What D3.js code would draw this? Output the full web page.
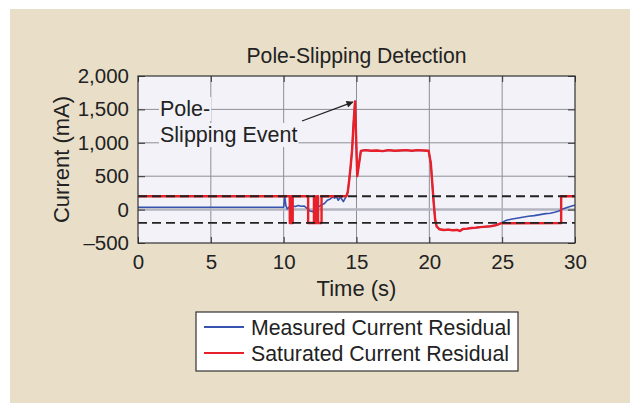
<!DOCTYPE html>
<html>
  <head>
    <meta http-equiv="Content-type" content="text/html; charset=utf-8"/>
    <title>Pole-Slipping Detection</title>
    <script src="https://d3js.org/d3.v7.min.js"></script>
    <style>
      body{ margin:0; background:#fff; }
      svg text{ font-family:"Liberation Sans", Arial, sans-serif; fill:#222; }
    </style>
  </head>
  <body>
    <svg width="630" height="403"></svg>
    <script>
      // ### Data ###
      var measuredT = [0, 10.0, 10.08, 10.15, 10.25, 10.4, 10.6, 10.8, 11.0, 11.2, 11.4, 11.6, 11.8, 12.0, 12.2, 12.4, 12.6, 12.8,
                       13.0, 13.2, 13.4, 13.5, 13.6, 13.75, 13.9, 14.0, 14.1, 14.2, 14.3, 14.4, 14.5, 14.6, 14.7, 14.8, 14.9, 14.97,
                       15.05, 15.15, 15.3, 15.6, 16.0, 16.4, 16.8, 17.2, 17.6, 18.0, 18.4, 18.8, 19.2, 19.6, 19.95, 20.1, 20.2, 20.3,
                       20.4, 20.5, 20.7, 21.0, 21.3, 21.6, 21.9, 22.1, 22.3, 22.6, 22.9, 23.2, 23.5, 23.9, 24.2, 24.6, 24.9, 25.1,
                       25.3, 25.6, 26.0, 26.4, 26.8, 27.2, 27.6, 28.0, 28.3, 28.6, 28.9, 29.1, 29.5, 29.9, 30];
      var measuredV = [35, 35, 190, 60, 10, 40, 55, 45, 60, 50, 55, 20, -20, -30, 10, 40, 70, 90,
                       140, 160, 190, 170, 200, 140, 190, 150, 120, 160, 200, 260, 440, 650, 900, 1300, 1620, 1100,
                       500, 650, 880, 890, 880, 885, 875, 890, 880, 885, 890, 880, 890, 885, 880, 700, 400, 100,
                       -150, -250, -295, -305, -300, -310, -305, -320, -290, -285, -275, -270, -262, -255, -250, -232, -205, -180,
                       -160, -145, -130, -115, -100, -90, -75, -60, -55, -40, -20, 5, 35, 60, 65];

      var saturatedT = [0, 10.42, 10.42, 10.5, 10.5, 10.55, 10.55, 10.62, 10.62, 11.68, 11.68, 12.08, 12.08, 12.15, 12.15, 12.3,
                        12.3, 12.36, 12.36, 12.6, 12.6, 14.3, 14.4, 14.5, 14.6, 14.7, 14.8, 14.9, 14.97, 15.05, 15.15, 15.3, 15.6,
                        16.0, 16.4, 16.8, 17.2, 17.6, 18.0, 18.4, 18.8, 19.2, 19.6, 19.95, 20.1, 20.2, 20.3, 20.4, 20.5, 20.7,
                        21.0, 21.3, 21.6, 21.9, 22.1, 22.3, 22.6, 22.9, 23.2, 23.5, 23.9, 24.2, 24.6, 24.9, 29.05, 29.05, 30];
      var saturatedV = [200, 200, -200, -200, 200, 200, -200, -200, 200, 200, -200, -200, 200, 200, -200, -200,
                        200, 200, -200, -200, 200, 200, 260, 440, 650, 900, 1300, 1620, 1100, 500, 650, 880, 890,
                        880, 885, 875, 890, 880, 885, 890, 880, 890, 885, 880, 700, 400, 100, -150, -250, -295,
                        -305, -300, -310, -305, -320, -290, -285, -275, -270, -262, -255, -250, -232, -205, -200, 200, 200];

      var thresholds = [200, -200];
      var xTicks = [0, 5, 10, 15, 20, 25, 30];
      var yTicks = [-500, 0, 500, 1000, 1500, 2000];
      var legendNames = ["Measured Current Residual", "Saturated Current Residual"];
      var colors = ["#3653b0", "#e8202a"];

      var svg = d3.select("svg");

      svg.append("rect").attr("x", 10).attr("y", 9).attr("width", 620).attr("height", 394).attr("fill", "#e9dfc9");

      var margin = {left: 138, top: 76, right: 575, bottom: 243};
      var x = d3.scaleLinear().domain([0, 30]).range([margin.left, margin.right]);
      var y = d3.scaleLinear().domain([-500, 2000]).range([margin.bottom, margin.top]);

      svg.append("rect")
          .attr("x", margin.left).attr("y", margin.top)
          .attr("width", margin.right - margin.left).attr("height", margin.bottom - margin.top)
          .attr("fill", "#f2f2f8");

      // grid
      var g = svg.append("g");
      g.selectAll(".gx").data(xTicks.slice(1, -1)).enter().append("line")
          .attr("x1", d => x(d)).attr("x2", d => x(d))
          .attr("y1", margin.top).attr("y2", margin.bottom)
          .attr("stroke", "#8e8e96").attr("stroke-width", 1);
      g.selectAll(".gy").data(yTicks.slice(1, -1)).enter().append("line")
          .attr("y1", d => y(d)).attr("y2", d => y(d))
          .attr("x1", margin.left).attr("x2", margin.right)
          .attr("stroke", d => d === 0 ? "#b4b4c0" : "#8e8e96")
          .attr("stroke-width", d => d === 0 ? 2.5 : 1);

      // axes with inward ticks
      svg.append("g").attr("transform", "translate(0," + margin.bottom + ")")
          .call(d3.axisBottom(x).tickValues(xTicks).tickSizeInner(-6).tickSizeOuter(0).tickPadding(11))
          .call(a => a.select(".domain").remove());
      svg.append("g").attr("transform", "translate(" + margin.left + ",0)")
          .call(d3.axisLeft(y).tickValues(yTicks).tickSizeInner(-7).tickSizeOuter(0).tickPadding(9)
            .tickFormat(d => d < 0 ? "\u2013" + d3.format(",")(-d) : d3.format(",")(d)))
          .call(a => a.select(".domain").remove());
      svg.append("g").attr("transform", "translate(" + margin.right + ",0)")
          .call(d3.axisRight(y).tickValues(yTicks).tickSizeInner(-7).tickSizeOuter(0).tickFormat(""))
          .call(a => a.select(".domain").remove());
      svg.append("g").attr("transform", "translate(0," + margin.top + ")")
          .call(d3.axisTop(x).tickValues(xTicks).tickSizeInner(-6).tickSizeOuter(0).tickFormat(""))
          .call(a => a.select(".domain").remove());
      svg.selectAll(".tick line").attr("stroke", "#333");
      svg.selectAll(".tick text").attr("font-size", 20.5).attr("fill", "#222")
          .style("font-family", "'Liberation Sans', Arial, sans-serif");

      var line = d3.line().x(d => x(d[0])).y(d => y(d[1]));

      var measured = measuredT.map((t, i) => [t, measuredV[i]]);
      var saturated = saturatedT.map((t, i) => [t, saturatedV[i]]);

      svg.append("path").datum(measured)
          .attr("fill", "none").attr("stroke", colors[0]).attr("stroke-width", 1.6)
          .attr("stroke-linejoin", "round").attr("d", line);
      svg.append("path").datum(saturated)
          .attr("fill", "none").attr("stroke", colors[1]).attr("stroke-width", 2.4)
          .attr("stroke-linejoin", "round").attr("d", line);

      // threshold lines
      svg.selectAll(".thr").data(thresholds).enter().append("line")
          .attr("x1", margin.left).attr("x2", margin.right)
          .attr("y1", d => y(d)).attr("y2", d => y(d))
          .attr("stroke", "#222").attr("stroke-width", 1.8).attr("stroke-dasharray", "9,5");

      // frame
      svg.append("rect")
          .attr("x", margin.left).attr("y", margin.top)
          .attr("width", margin.right - margin.left).attr("height", margin.bottom - margin.top)
          .attr("fill", "none").attr("stroke", "#333").attr("stroke-width", 1.2);

      // annotation
      var ann = svg.append("g");
      var annLines = [["Pole-", 116], ["Slipping Event", 142]];
      annLines.forEach(function(l){
        var t = ann.append("text").attr("x", 160).attr("y", l[1]).attr("font-size", 21.5).text(l[0]);
        var b = t.node().getBBox();
        ann.insert("rect", "text").attr("x", b.x - 1).attr("y", b.y).attr("width", b.width + 2).attr("height", b.height)
            .attr("fill", "#f2f2f8");
      });
      svg.append("defs").append("marker")
          .attr("id", "arrow").attr("viewBox", "0 0 10 10").attr("refX", 9).attr("refY", 5)
          .attr("markerWidth", 9).attr("markerHeight", 7).attr("orient", "auto")
          .attr("markerUnits", "userSpaceOnUse")
        .append("path").attr("d", "M0,0L10,5L0,10z").attr("fill", "#222");
      svg.append("line")
          .attr("x1", 302).attr("y1", 121).attr("x2", x(14.75)).attr("y2", y(1610))
          .attr("stroke", "#222").attr("stroke-width", 1.3).attr("marker-end", "url(#arrow)");

      // titles
      svg.append("text").attr("x", (margin.left + margin.right) / 2).attr("y", 63)
          .attr("text-anchor", "middle").attr("font-size", 22)
          .attr("textLength", 220).attr("lengthAdjust", "spacingAndGlyphs").text("Pole-Slipping Detection");
      svg.append("text").attr("x", (margin.left + margin.right) / 2).attr("y", 296)
          .attr("text-anchor", "middle").attr("font-size", 22).text("Time (s)");
      svg.append("text").attr("transform", "translate(69," + (margin.top + margin.bottom) / 2 + ") rotate(-90)")
          .attr("text-anchor", "middle").attr("font-size", 22).text("Current (mA)");

      // legend
      var lg = svg.append("g");
      lg.append("rect").attr("x", 196).attr("y", 312).attr("width", 322).attr("height", 59)
          .attr("fill", "#fff").attr("stroke", "#333").attr("stroke-width", 1.2);
      legendNames.forEach(function(n, i){
        var yy = 327 + i * 26;
        lg.append("line").attr("x1", 204).attr("x2", 244).attr("y1", yy).attr("y2", yy)
            .attr("stroke", colors[i]).attr("stroke-width", 1.8);
        lg.append("text").attr("x", 251).attr("y", yy + 8).attr("font-size", 22)
            .attr("textLength", i === 0 ? 260 : 258).attr("lengthAdjust", "spacingAndGlyphs").text(n);
      });
    </script>
  </body>
</html>
